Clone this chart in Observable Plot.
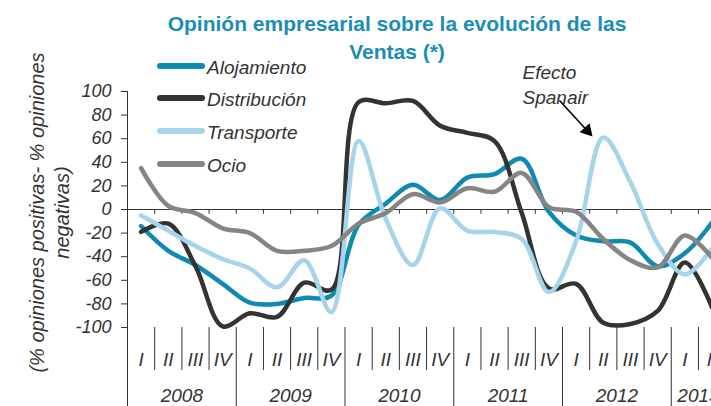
<!DOCTYPE html>
<html>
<head>
<meta charset="utf-8">
<script src="https://cdn.jsdelivr.net/npm/d3@7"></script>
<script src="https://cdn.jsdelivr.net/npm/@observablehq/plot@0.6"></script>
<style>
html, body { margin: 0; padding: 0; overflow: hidden; background: #fff; }
#wrap { position: relative; width: 711px; height: 406px; overflow: hidden; font-family: "Liberation Sans", Arial, sans-serif; }
#chart { position: absolute; left: 0; top: 0; }
#title { position: absolute; left: 97px; width: 600px; top: 10px; text-align: center; font-weight: bold; font-size: 21px; line-height: 28px; color: #1b8db6; }
.lg { position: absolute; left: 157px; height: 32px; display: flex; align-items: center; }
.sw { display: inline-block; width: 48px; height: 6px; border-radius: 3px; }
.lb { margin-left: 2px; font-style: italic; font-size: 19px; color: #333; position: relative; top: 2px; white-space: nowrap; }
</style>
</head>
<body>
<div id="wrap">
  <div id="chart"></div>
  <div id="title">Opinión empresarial sobre la evolución de las<br>Ventas (*)</div>
  <div id="legend"></div>
</div>
<script>
// ---- data ----
const quarterLabels = ["I", "II", "III", "IV"];
const years = ["2008", "2009", "2010", "2011", "2012", "2013"];
const quartersPerYear = [4, 4, 4, 4, 4, 2];
const seriesNames = ["Alojamiento", "Distribución", "Transporte", "Ocio"];
const seriesColors = ["#0f8ab0", "#333333", "#a6d4ea", "#858585"];
const alojamiento  = [-14, -35, -47, -63, -79, -80, -75, -73, -13, 5, 21, 8, 27, 30, 43, -2, -22, -27, -28, -48, -37, -11];
const distribucion = [-19, -12, -48, -99, -88, -91, -62, -68, 91, 90, 92, 71, 65, 58, -3, -67, -63, -96, -97, -86, -45, -83];
const transporte   = [-5, -18, -31, -42, -50, -66, -43, -87, 58, -8, -47, 1, -18, -19, -25, -70, -27, 61, 23, -29, -55, -33];
const ocio         = [35, 3, -3, -16, -20, -35, -35, -31, -12, -3, 13, 6, 18, 15, 31, 2, -2, -25, -43, -49, -22, -41];
const yTicks = [100, 80, 60, 40, 20, 0, -20, -40, -60, -80, -100];
const annotationText = "Efecto\nSpanair";
const yTitle = "(% opiniones positivas- % opiniones\nnegativas)";

// ---- derived tables ----
const seriesValues = [alojamiento, distribucion, transporte, ocio];
const rows = seriesNames.flatMap((name, s) => seriesValues[s].map((v, i) => ({name, i, v})));
const N = alojamiento.length;
const qIdx = d3.range(N);
const yearStarts = [];
let acc = 0;
for (const n of quartersPerYear) { yearStarts.push(acc); acc += n; }
const yearBoundaries = yearStarts.map(s => s - 0.5).concat([acc - 0.5]);
const quarterBoundaries = d3.range(1, N).filter(i => !yearStarts.includes(i)).map(i => i - 0.5);
const allBoundaries = d3.range(1, N).map(i => i - 0.5);
const yearCenters = yearStarts.map((s, k) => s + quartersPerYear[k] / 2 - 0.5);
const yearByCenter = new Map(yearCenters.map((c, k) => [c, years[k]]));

const xDomain = [-0.5, 20.98];

const chart = Plot.plot({
  width: 711,
  height: 406,
  marginLeft: 127,
  marginRight: 0,
  marginTop: 91,
  marginBottom: 79,
  x: {domain: xDomain, axis: null},
  y: {domain: [-100, 100], axis: null},
  color: {domain: seriesNames, range: seriesColors},
  style: {fontFamily: '"Liberation Sans", Arial, sans-serif', fontSize: "18px", color: "#333", background: "transparent", overflow: "hidden"},
  marks: [
    Plot.ruleX([xDomain[0]], {y1: -100, y2: 100, stroke: "#333", strokeWidth: 1}),
    Plot.axisY(yTicks, {anchor: "left", label: null, tickSize: 6, tickPadding: 10, tickFormat: d => String(d), fontStyle: "italic", fontSize: 18, stroke: "#333", fill: "#333"}),
    Plot.ruleY([0], {stroke: "#333", strokeWidth: 1}),
    Plot.ruleX(allBoundaries, {y1: 0, y2: -4, stroke: "#333", strokeWidth: 1}),
    Plot.axisX(quarterBoundaries, {anchor: "bottom", label: null, tickSize: 43, tickFormat: () => "", stroke: "#333"}),
    Plot.axisX(yearBoundaries, {anchor: "bottom", label: null, tickSize: 82, tickFormat: () => "", stroke: "#333"}),
    Plot.axisX(qIdx, {anchor: "bottom", label: null, tickSize: 0, tickPadding: 25, tickFormat: i => quarterLabels[i % 4], fontStyle: "italic", fontSize: 19, fill: "#333"}),
    Plot.axisX(yearCenters, {anchor: "bottom", label: null, tickSize: 0, tickPadding: 61, tickFormat: c => yearByCenter.get(c), fontStyle: "italic", fontSize: 19, fill: "#333"}),
    Plot.line(rows, {x: "i", y: "v", z: "name", stroke: "name", strokeWidth: 4.5, curve: "catmull-rom", strokeLinecap: "round", strokeLinejoin: "round"}),
    Plot.text([annotationText], {x: 14.03, y: 125.4, textAnchor: "start", lineAnchor: "top", lineHeight: 1.32, fontStyle: "italic", fontSize: 19, fill: "#333"}),
    Plot.link([0], {x1: 15.39, y1: 92.4, x2: 16.41, y2: 66.8, stroke: "#000", strokeWidth: 1.6}),
    Plot.dot([0], {x: 16.41, y: 66.8, symbol: "triangle", r: 5, fill: "#000", stroke: "none", rotate: 137.5}),
    Plot.text([yTitle], {frameAnchor: "left", dx: -79, dy: 3, rotate: -90, textAnchor: "middle", lineAnchor: "middle", lineHeight: 1.26, fontStyle: "italic", fontSize: 20, fill: "#333"})
  ]
});
document.getElementById("chart").appendChild(chart);

// ---- legend ----
const legendCenters = [66, 98, 131, 164];
const legend = document.getElementById("legend");
seriesNames.forEach((name, k) => {
  const row = document.createElement("div");
  row.className = "lg";
  row.style.top = (legendCenters[k] - 16) + "px";
  const sw = document.createElement("span");
  sw.className = "sw";
  sw.style.background = seriesColors[k];
  const lb = document.createElement("span");
  lb.className = "lb";
  lb.textContent = name;
  row.appendChild(sw);
  row.appendChild(lb);
  legend.appendChild(row);
});
</script>
</body>
</html>
